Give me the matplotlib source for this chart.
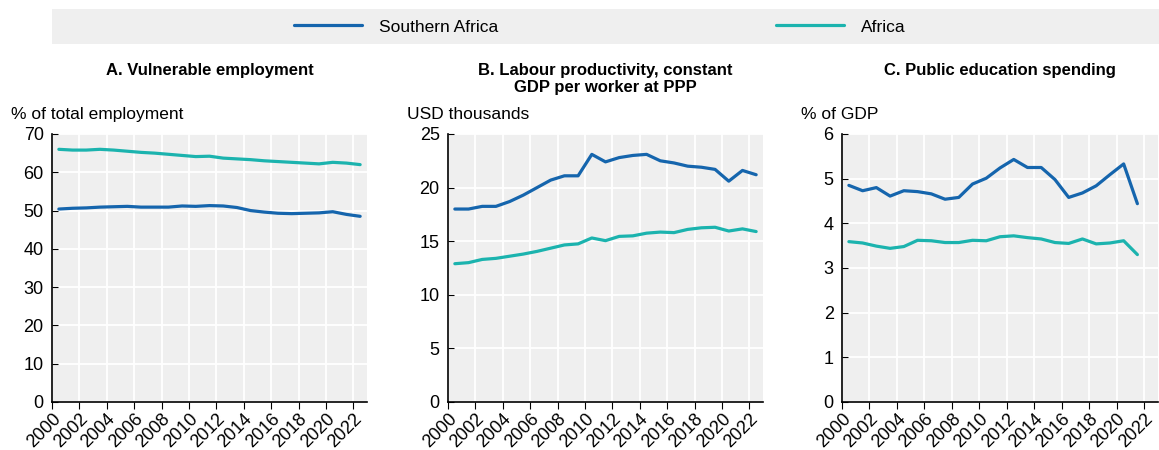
import matplotlib.pyplot as plt
import matplotlib
from matplotlib.patches import Rectangle
from matplotlib import font_manager

names = {f.name for f in font_manager.fontManager.ttflist}
fam = 'Liberation Sans Narrow' if 'Liberation Sans Narrow' in names else 'Liberation Sans'
matplotlib.rcParams['font.family'] = [fam, 'DejaVu Sans']

years = list(range(2000, 2023))
years_c = list(range(2000, 2022))

# A. Vulnerable employment (% of total employment)
vuln_sa = [50.4, 50.6, 50.7, 50.9, 51.0, 51.1, 50.9, 50.9, 50.9, 51.2, 51.1, 51.3, 51.2,
           50.8, 50.0, 49.6, 49.3, 49.2, 49.3, 49.4, 49.7, 49.0, 48.5]
vuln_af = [66.0, 65.8, 65.8, 66.0, 65.8, 65.5, 65.2, 65.0, 64.7, 64.4, 64.1, 64.2, 63.7,
           63.5, 63.3, 63.0, 62.8, 62.6, 62.4, 62.2, 62.6, 62.4, 62.0]

# B. Labour productivity (USD thousands)
prod_sa = [18.0, 18.0, 18.25, 18.25, 18.7, 19.3, 20.0, 20.7, 21.1, 21.1, 23.1, 22.4, 22.8,
           23.0, 23.1, 22.5, 22.3, 22.0, 21.9, 21.7, 20.6, 21.6, 21.2]
prod_af = [12.9, 13.0, 13.3, 13.4, 13.6, 13.8, 14.05, 14.35, 14.65, 14.75, 15.3, 15.05, 15.45,
           15.5, 15.75, 15.85, 15.8, 16.1, 16.25, 16.3, 15.95, 16.15, 15.9]

# C. Public education spending (% of GDP)
edu_sa = [4.85, 4.73, 4.80, 4.61, 4.73, 4.71, 4.66, 4.54, 4.58, 4.88, 5.01, 5.24, 5.43,
          5.25, 5.25, 4.98, 4.58, 4.68, 4.84, 5.09, 5.33, 4.44]
edu_af = [3.59, 3.56, 3.49, 3.44, 3.48, 3.62, 3.61, 3.57, 3.57, 3.62, 3.61, 3.70, 3.72,
          3.68, 3.65, 3.57, 3.55, 3.65, 3.54, 3.56, 3.61, 3.30]

blue = '#1565ad'
teal = '#1bb3ae'
bg = '#efefef'

W, H = 1159, 450
fig = plt.figure(figsize=(W / 100, H / 100), dpi=100)

panels = [
    ('A. Vulnerable employment', '% of total employment', years, vuln_sa, vuln_af,
     70, 10, 52, 367),
    ('B. Labour productivity, constant\nGDP per worker at PPP', 'USD thousands', years, prod_sa, prod_af,
     25, 5, 448, 763),
    ('C. Public education spending', '% of GDP', years_c, edu_sa, edu_af,
     6, 1, 842, 1158),
]

top, bottom = 134, 402
for title, unit, yrs, sa, af, ymax, step, x0, x1 in panels:
    ax = fig.add_axes([x0 / W, 1 - bottom / H, (x1 - x0) / W, (bottom - top) / H])
    ax.set_facecolor(bg)
    xs = [y + 0.5 for y in yrs]
    l1, = ax.plot(xs, sa, color=blue, lw=2.3, solid_capstyle='round', label='Southern Africa')
    l2, = ax.plot(xs, af, color=teal, lw=2.3, solid_capstyle='round', label='Africa')
    ax.set_xlim(2000, 2023)
    ax.set_ylim(0, ymax)
    ax.set_yticks(range(0, ymax + 1, step))
    ax.set_xticks(range(2000, 2023, 2))
    ax.grid(True, color='white', lw=1.3)
    ax.set_axisbelow(True)
    for s in ['top', 'right']:
        ax.spines[s].set_visible(False)
    for s in ['left', 'bottom']:
        ax.spines[s].set_color('black')
        ax.spines[s].set_linewidth(1.2)
    ax.tick_params(axis='y', length=4, direction='in', labelsize=13, pad=6)
    ax.tick_params(axis='x', length=5, direction='out', labelsize=13, pad=1)
    plt.setp(ax.get_xticklabels(), rotation=45, ha='right', rotation_mode='anchor')
    ax.text(-0.13, 1.045, unit, transform=ax.transAxes, fontsize=12.5, ha='left', va='bottom')
    xc = (x0 + x1) / 2 / W
    fig.text(xc, 1 - 63 / H, title, ha='center', va='top', fontsize=12,
             fontweight='bold', linespacing=1.15)

fig.patches.append(Rectangle((52 / W, 1 - 44 / H), (W - 52) / W, 35 / H,
                             transform=fig.transFigure, facecolor=bg, edgecolor='none', zorder=0))
fig.legend(handles=[l1, l2], loc='center', bbox_to_anchor=(600 / W, 1 - 27 / H), ncol=2,
           frameon=False, fontsize=12.5, handlelength=3.9, columnspacing=16.0, handletextpad=1.0)

fig.savefig('out.png', dpi=100)
